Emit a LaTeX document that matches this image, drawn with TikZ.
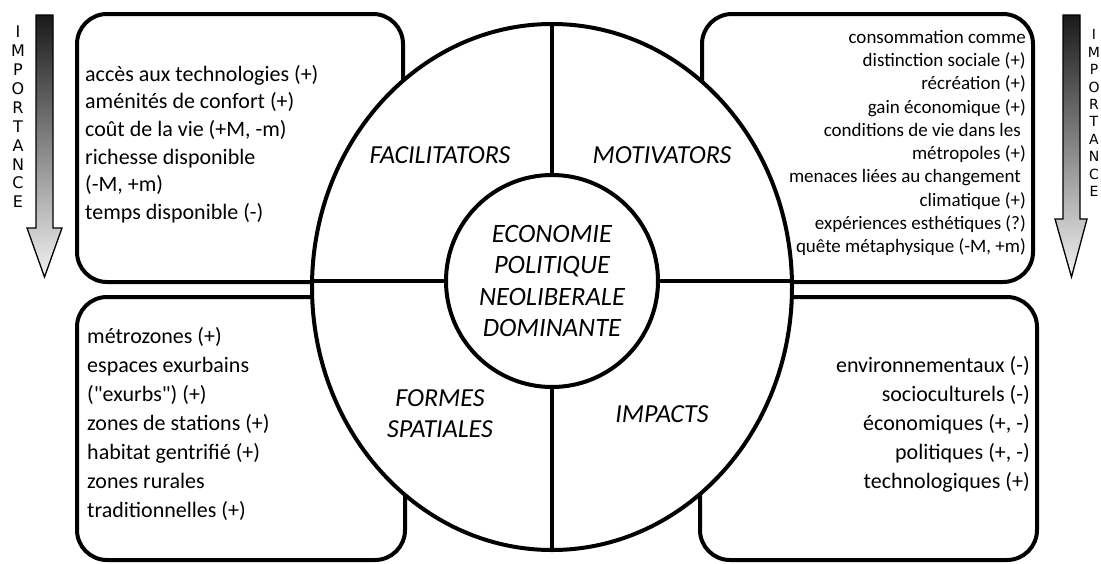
\documentclass[tikz,border=0pt]{standalone}
\usepackage{fontspec}
\setmainfont{Carlito}[Ligatures=TeXOff]
\newfontfamily\impfont{DejaVu Sans}
\usetikzlibrary{shapes.geometric}
\tikzset{
  boxst/.style={draw=black, fill=white, line width=4pt, rounded corners=30pt},
  sepline/.style={draw=black, line width=4pt},
  arrowst/.style={top color=black!90, bottom color=black!5, draw=black, line width=1.3pt},
  bodytxt/.style={font=\fontsize{22}{27.6}\selectfont, inner sep=0pt},
  lbl/.style={font=\fontsize{26}{31}\selectfont\itshape, align=center, inner sep=0pt},
  imptxt/.style={align=center, inner sep=0pt}
}
\begin{document}
\begin{tikzpicture}[x=1pt,y=-1pt]
\useasboundingbox (0,0) rectangle (1101,563);
% importance arrows
\shade[arrowst] (36,15) -- (53,15) -- (53,228) -- (62,228) -- (44.5,277) -- (27,228) -- (36,228) -- cycle;
\shade[arrowst] (1063,15) -- (1080,15) -- (1080,219) -- (1087,219) -- (1071.5,277) -- (1055,219) -- (1063,219) -- cycle;
\node[imptxt, font=\fontsize{16}{18.9}\selectfont\impfont] (impL) at (18,117) {I\\M\\P\\O\\R\\T\\A\\N\\C\\E};
\node[imptxt, font=\fontsize{14}{17.4}\selectfont\impfont] (impR) at (1094,113) {I\\M\\P\\O\\R\\T\\A\\N\\C\\E};
% boxes
\draw[boxst] (77,14) rectangle (403,282);
\draw[boxst] (702,14) rectangle (1033,282);
\draw[boxst] (77,297) rectangle (405,560);
\draw[boxst] (700,297) rectangle (1037,560);
% big ellipse
\node[ellipse, draw=black, fill=white, line width=4pt, minimum width=480pt, minimum height=526pt, inner sep=0pt, outer sep=0pt] (E) at (552,287) {};
% centre circle (named first for lines)
\path (552,281) node[circle, minimum size=212pt, inner sep=0pt, outer sep=0pt] (C) {};
\draw[sepline] (E.north) -- (C.north);
\draw[sepline] (C.south) -- (E.south);
\draw[sepline] (E.west |- C.west) -- (C.west);
\draw[sepline] (C.east) -- (E.east |- C.east);
\node[circle, draw=black, fill=white, line width=4pt, minimum size=212pt, inner sep=0pt, outer sep=0pt] (Cc) at (552,281) {};
\node[lbl, font=\fontsize{26.5}{31.6}\selectfont\itshape] (core) at (Cc.center) {ECONOMIE\\POLITIQUE\\NEOLIBERALE\\DOMINANTE};
% quadrant labels
\node[lbl] (fac) at (440,155) {FACILITATORS};
\node[lbl] (mot) at (662,155) {MOTIVATORS};
\node[lbl] (form) at (440,414) {FORMES\\SPATIALES};
\node[lbl] (imp) at (662,414) {IMPACTS};
% box texts
\node[bodytxt, align=left, anchor=west] (tl) at (85,144) {accès aux technologies (+)\\aménités de confort (+)\\coût de la vie (+M, -m)\\richesse disponible\\(-M, +m)\\temps disponible (-)};
\node[bodytxt, align=right, anchor=east, font=\fontsize{19}{23.3}\selectfont] (tr) at (1026,143) {consommation comme\\distinction sociale (+)\\récréation (+)\\gain économique (+)\\conditions de vie dans les\rule{5pt}{0pt}\\métropoles (+)\\menaces liées au changement\rule{5pt}{0pt}\\climatique (+)\\expériences esthétiques (?)\\quête métaphysique (-M, +m)};
\node[bodytxt, align=left, anchor=west, font=\fontsize{22}{29}\selectfont] (bl) at (87,424) {métrozones (+)\\espaces exurbains\\("exurbs") (+)\\zones de stations (+)\\habitat gentrifié (+)\\zones rurales\\traditionnelles (+)};
\node[bodytxt, align=right, anchor=east, font=\fontsize{22}{29}\selectfont] (br) at (1030,424) {environnementaux (-)\\socioculturels (-)\\économiques (+, -)\\politiques (+, -)\\technologiques (+)};
\end{tikzpicture}
\end{document}
